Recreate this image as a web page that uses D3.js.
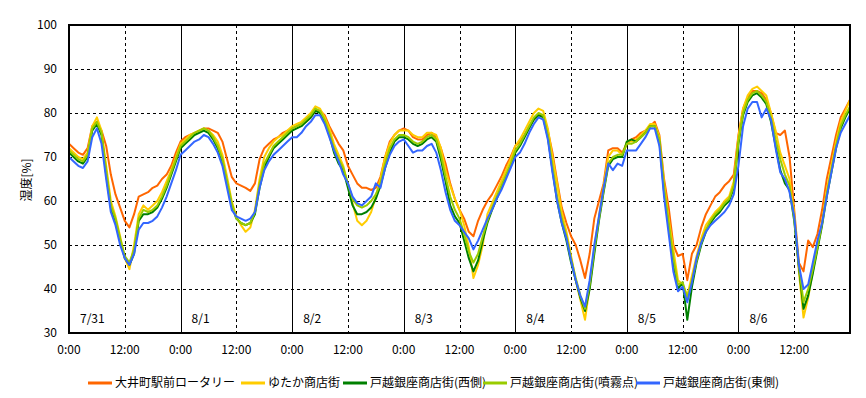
<!DOCTYPE html>
<html><head><meta charset="utf-8">
<script src="https://cdn.jsdelivr.net/npm/d3@7"></script>
<style>
html,body{margin:0;padding:0;background:#fff;}
svg text{font-family:"Noto Sans CJK JP","DejaVu Sans",sans-serif;font-size:12px;fill:#000;}
</style></head>
<body><svg id="c" width="866" height="398"></svg>
<script>
// hourly readings, 7/31 0:00 .. 8/7 0:00 (169 points)
const seriesNames = ["大井町駅前ロータリー","ゆたか商店街","戸越銀座商店街(西側)","戸越銀座商店街(噴霧点)","戸越銀座商店街(東側)"];
const ooi = [73,72,71,70.5,72,77,78,76,72.5,66,61.5,58.5,55.5,54,57,61,61.5,62,63,63.5,65,66,68,71,
73.5,74.5,75,75.5,76,76.5,76.5,76,75.5,73.5,69.5,65.5,64,63.5,63,62.3,64,69.5,72,73,74,74.5,75.5,76,
76.5,77,77.5,78,79,80.5,80.5,79.5,77,75,73,71.5,68,66,64,63,63,62.5,63,65.5,70,73.5,75,76,
76.5,76,74.5,74,74,75,75.5,74.5,72,68.5,64,60.5,58,56,53,52,55.5,58,60,61.5,63.5,65.5,68,70,
72.5,73.5,75,77,78.5,79.5,79.5,76,71,64.5,58.5,55,52,50,46.5,42.5,48,56,60,64,71.5,72,72,71,
73,74,74.5,75.5,76,77,78,75,65,58.5,50,47.5,48,42,48,50,54,57,59,61,62,63.5,64.5,66,
75,81,83.5,85,85,84.5,83,80,75.5,75,76,70,58,46,44,51,49.5,52.5,58,65,70,75,79,81,83];
const yutaka = [72,71,70,69.5,71,77,79,76,68,60,56.5,52,47,44.5,50,57,59,58,59,60,62,64.5,67,70,
73,74,75,75.5,76,76.5,76,75,73.5,70.5,65.5,60,56.5,54.5,53,54,58,65,70,72,73.5,74.5,75,76,
77,77.5,78,79,80,81.5,81,79,76.5,73,70.5,68,63.5,59.5,55.5,54.5,55.5,57.5,61,65,70,73,75,76,
76,76,75,74.5,74.5,75.5,75.5,75,72,67,63.5,60.5,58,54.5,49.5,42.5,45.5,50,57,59.5,62,64.5,67,69.5,
72.5,74,76,78,80,81,80.5,76.5,70,64,57.5,53,47.5,42,37.5,33,40.5,49.5,56.5,63.5,70,71.5,71.5,70.5,
73.5,73.5,74,75,76,77.5,77.5,74.5,64,56,49,42,41,38.5,43,47.5,51.5,54.5,56,57.5,58.5,60,61,64.5,
74.5,81,84,85.5,86,85,84,80,76,71,68,65,57,44,33.5,38,44,49.5,55,62.5,68,73.5,78,80.5,83];
const nishi = [71,70,69,68.5,70,76,77.5,75,66,58.5,55.5,51,47,45.5,48,55.5,57,57,57.5,58.5,60.5,63,66,69,
72,73,74,75,75.5,76,75.5,74,72,69,64,59,56,55,54.5,55,57,63,67.5,70,72,73,74,75,
76,76.5,77,78,79,80.5,80,78,75,71,68.5,67,63,59,57,57,57.5,58.5,60.5,63.5,67.5,71,73.5,74.5,
74.5,74,73,72.5,73,74,74.5,73.5,69.5,64.5,59,56.5,55,51,47,44,46.5,51,55,58,60.5,63,65.5,68,
71,72.5,74.5,76.5,78.5,79.5,79,74.5,67,60,55,51,46,42,38,35,40,48,55.5,62,68,69.5,70,70,
73.5,74,73.5,74.5,75.5,77,77,73.5,62,54,46,40,41.5,33,40.5,46,50,53,55,56.5,57.5,59,60,63,
73,79.5,82.5,84,84.5,83.5,82,78,72.5,67,64,62.5,55.5,45,35.5,38.5,43.5,49,54.5,61,66.5,72,76.5,79,81];
const funmu = [71.5,70.5,69.5,69,70.5,76.5,78,75.5,67,59,56,51.5,47.5,46,49,56,58,57.5,58,59,61,63.5,66.5,69.5,
72.5,73.5,74.5,75.5,76,76.5,76,74.5,72.5,69.5,64.5,59.5,56,55,54.5,55,57.5,64,68.5,70.5,72.5,73.5,74.5,75.5,
76.5,77,77.5,78.5,79.5,81,80.5,78.5,75.5,72,69.5,67.5,64,60.5,59,58.5,59,60,61.5,64,68.5,72,74,75,
75,74.5,73.5,73,73.5,74.5,75,74,70.5,65.5,61,58,56,52.5,48.5,46,48,52,55.5,58.5,61,63.5,66,68.5,
71.5,73,75,77,79,80,79.5,75,68,61,56,52,47,42.5,38.5,35.5,41,49,56,62.5,68.5,70,70.5,70.5,
73,73,73.5,74.5,75.5,77,77,74,63,55,47,41,41.5,38,42,46.5,50.5,53.5,55.5,57,58,59.5,60.5,63.5,
73.5,80,83,84.5,85,84,82.5,79,74,69.5,66,63.5,56,45.5,37,40,44.5,49.5,55,61.5,67,72.5,77,79.5,81.5];
const higashi = [70,69,68,67.5,69,74.5,76.5,73,65,57.5,54.5,50,47,45.5,48,53.5,55,55,55.5,56.5,58.5,61,64,67,
70.5,71.5,72.5,73.5,74,75,74.5,73,71,68,63,58,56.5,56,55.5,56,57.5,63,67,69,70.5,71.5,72.5,73.5,
74.5,74.5,75.5,77,78,79.5,79.5,77.5,74.5,71.5,69,66,64,61,59.5,59,60,61,64,63,67.5,70.5,72.5,73.5,
74,72.5,71,71.5,71.5,72.5,73,71,67,62,58,55.5,54.5,53,51.5,49,51,53.5,56,58,60.5,62.5,65,67.5,
70,71,73,75.5,77.5,79,78.5,74,66.5,60,55,51.5,46.5,42,38.5,36,42,50,56.5,63,68.5,67,68.5,68,
71.5,71.5,71.5,73,74.5,76.5,76.5,72.5,61,52.5,44,39.5,40.5,37,41.5,47,50.5,53,54.5,55.5,56.5,57.5,59,61.5,
68,77,81,82.5,82.5,79,81,78.5,72,66.5,65,62,56.5,45.5,40,41,46,51,55,61,66.5,72,75.5,77.5,79.5];
const yTicks = [30,40,50,60,70,80,90,100];
const xTickLabels = ["0:00","12:00","0:00","12:00","0:00","12:00","0:00","12:00","0:00","12:00","0:00","12:00","0:00","12:00"];
const dayLabels = ["7/31","8/1","8/2","8/3","8/4","8/5","8/6"];
const colors = ["#ff6600","#ffcc00","#008000","#99cc00","#3366ff"];
const allSeries = [ooi, yutaka, nishi, funmu, higashi];

const svg = d3.select("#c");
const L=69, R=850, T=25, B=333;
const x = d3.scaleLinear().domain([0,168]).range([L,R]);
const y = d3.scaleLinear().domain([30,100]).range([B,T]);

// horizontal dashed grid
const g = svg.append("g");
g.selectAll("line.h").data(yTicks.slice(1,-1)).enter().append("line")
  .attr("x1",L).attr("x2",R).attr("y1",d=>Math.round(y(d))+0.5).attr("y2",d=>Math.round(y(d))+0.5)
  .attr("stroke","#000").attr("stroke-width",1).attr("stroke-dasharray","3,3");
// vertical lines every 12h
const vt = d3.range(12,168,12);
g.selectAll("line.v").data(vt).enter().append("line")
  .attr("x1",d=>Math.round(x(d))+0.5).attr("x2",d=>Math.round(x(d))+0.5).attr("y1",T).attr("y2",B)
  .attr("stroke","#000").attr("stroke-width",1)
  .attr("stroke-dasharray",d=>d%24===0?null:"3,3");

// series
const line = d3.line().x((d,i)=>x(i)).y(d=>y(d));
allSeries.forEach((s,k)=>{
  svg.append("path").datum(s).attr("d",line).attr("fill","none")
    .attr("stroke",colors[k]).attr("stroke-width",2).attr("stroke-linejoin","round");
});

// frame
svg.append("rect").attr("x",L).attr("y",T).attr("width",R-L).attr("height",B-T)
  .attr("fill","none").attr("stroke","#000").attr("stroke-width",2);

// y axis labels
svg.selectAll("text.yt").data(yTicks).enter().append("text")
  .attr("x",57).attr("y",d=>y(d)+4).attr("text-anchor","end").text(d=>d);
// x axis labels
svg.selectAll("text.xt").data(xTickLabels).enter().append("text")
  .attr("x",(d,i)=>x(i*12)).attr("y",354).attr("text-anchor","middle").text(d=>d);
// day labels
svg.selectAll("text.day").data(dayLabels).enter().append("text")
  .attr("x",(d,i)=>x(i*24)+11).attr("y",323).text(d=>d);
// y title
svg.append("text").attr("transform","translate(31,180) rotate(-90)")
  .attr("text-anchor","middle").text("湿度[%]");

// legend
const legX = [88,241,343,483,636];
seriesNames.forEach((n,k)=>{
  svg.append("line").attr("x1",legX[k]).attr("x2",legX[k]+24).attr("y1",383).attr("y2",383)
    .attr("stroke",colors[k]).attr("stroke-width",3);
  svg.append("text").attr("x",legX[k]+27).attr("y",387).text(n);
});
</script></body></html>
